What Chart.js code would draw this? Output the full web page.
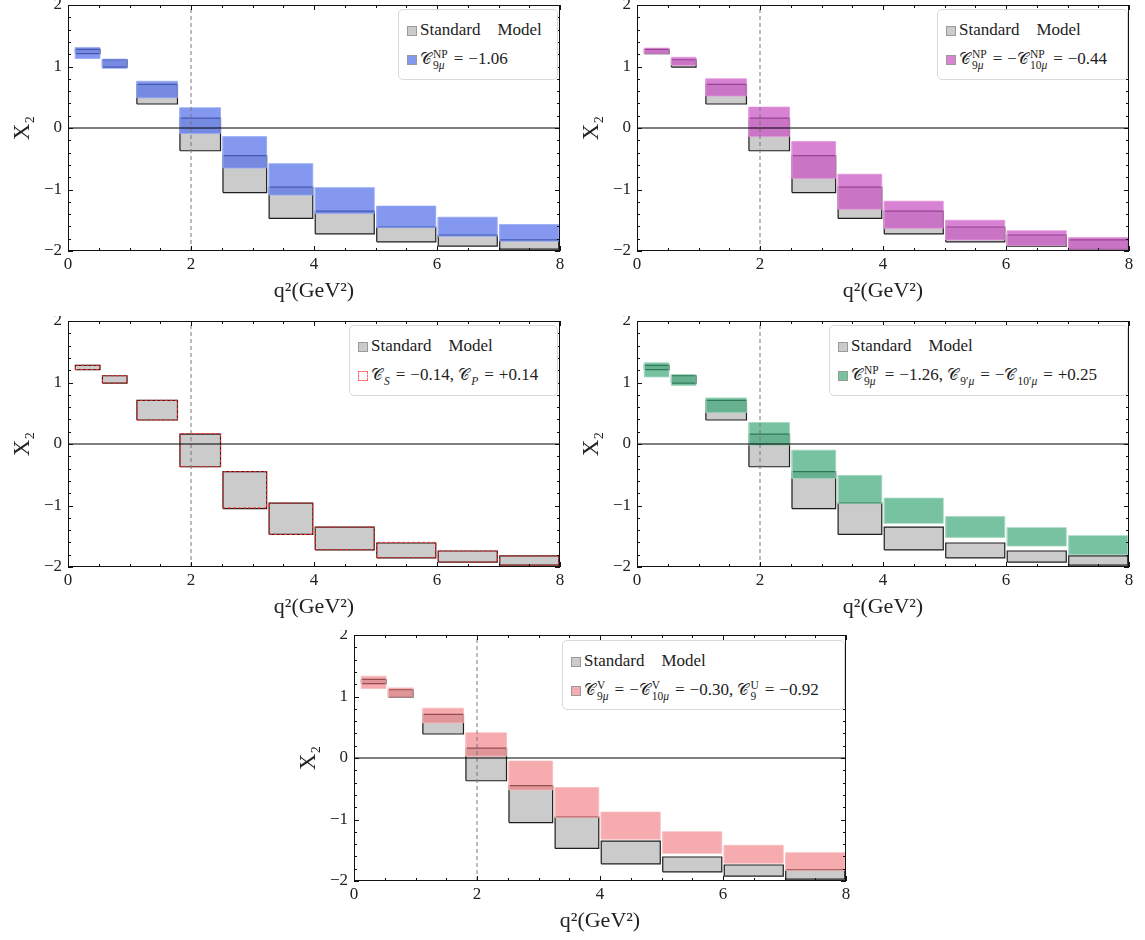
<!DOCTYPE html>
<html>
<head>
<meta charset="utf-8">
<script src="https://cdn.jsdelivr.net/npm/chart.js@4.4.1/dist/chart.umd.min.js"></script>
<style>
  body { margin: 0; background: #fff; }
  #page { position: relative; width: 1145px; height: 940px; overflow: hidden; font-family: "Liberation Serif", "DejaVu Serif", serif; color: #222; }
  canvas { position: absolute; }
  .leg { position: absolute; background: #fff; border: 1px solid #d9d9d9; border-radius: 5px; box-sizing: border-box;
         font-size: 17px; padding: 8px 0 0 8px; white-space: nowrap; }
  .r1 { height: 24px; line-height: 24px; }
  .r2 { height: 34px; line-height: 34px; }
  .sw { display: inline-block; width: 8px; height: 8px; margin-right: 3px; border: 1px solid #9a9a9a; vertical-align: -1px; }
  .C { font-family: "DejaVu Serif", serif; font-size: 16px; }
  .ss { display: inline-flex; flex-direction: column; font-size: 11.5px; line-height: 11px; vertical-align: middle; margin: 0 1px; }
  .op { margin: 0 5px; }
</style>
</head>
<body>
<div id="page">
  <canvas id="c1" width="570" height="306" style="left:0px;top:0px"></canvas>
  <canvas id="c2" width="570" height="306" style="left:569px;top:0px"></canvas>
  <canvas id="c3" width="570" height="306" style="left:0px;top:316px"></canvas>
  <canvas id="c4" width="570" height="306" style="left:569px;top:316px"></canvas>
  <canvas id="c5" width="570" height="306" style="left:286px;top:630px"></canvas>

  <div class="leg" style="left:398px;top:9px;width:160px;height:71px">
    <div class="r1"><span class="sw" style="background:#cbcbcb"></span>Standard&ensp;&ensp;Model</div>
    <div class="r2"><span class="sw" style="background:#8598f0"></span><span class="C">𝒞</span><span class="ss"><span>NP</span><span>9<i>μ</i></span></span><span class="op">=</span>−1.06</div>
  </div>
  <div class="leg" style="left:937px;top:9px;width:191px;height:71px">
    <div class="r1"><span class="sw" style="background:#cbcbcb"></span>Standard&ensp;&ensp;Model</div>
    <div class="r2"><span class="sw" style="background:#d884d2"></span><span class="C">𝒞</span><span class="ss"><span>NP</span><span>9<i>μ</i></span></span><span class="op">=</span>−<span class="C">𝒞</span><span class="ss"><span>NP</span><span>10<i>μ</i></span></span><span class="op">=</span>−0.44</div>
  </div>
  <div class="leg" style="left:349px;top:325px;width:209px;height:71px">
    <div class="r1"><span class="sw" style="background:#cbcbcb"></span>Standard&ensp;&ensp;Model</div>
    <div class="r2"><span class="sw" style="background:#fff;border:1px dashed #f66"></span><span class="C">𝒞</span><span class="ss"><span>&nbsp;</span><span><i>S</i></span></span><span class="op">=</span>−0.14, <span class="C">𝒞</span><span class="ss"><span>&nbsp;</span><span><i>P</i></span></span><span class="op">=</span>+0.14</div>
  </div>
  <div class="leg" style="left:829px;top:325px;width:299px;height:71px">
    <div class="r1"><span class="sw" style="background:#cbcbcb"></span>Standard&ensp;&ensp;Model</div>
    <div class="r2"><span class="sw" style="background:#78c2a0"></span><span class="C">𝒞</span><span class="ss"><span>NP</span><span>9<i>μ</i></span></span><span class="op">=</span>−1.26, <span class="C">𝒞</span><span class="ss"><span>&nbsp;</span><span>9′<i>μ</i></span></span><span class="op">=</span>−<span class="C">𝒞</span><span class="ss"><span>&nbsp;</span><span>10′<i>μ</i></span></span><span class="op">=</span>+0.25</div>
  </div>
  <div class="leg" style="left:562px;top:640px;width:283px;height:70px">
    <div class="r1"><span class="sw" style="background:#cbcbcb"></span>Standard&ensp;&ensp;Model</div>
    <div class="r2"><span class="sw" style="background:#f5acb0"></span><span class="C">𝒞</span><span class="ss"><span>V</span><span>9<i>μ</i></span></span><span class="op">=</span>−<span class="C">𝒞</span><span class="ss"><span>V</span><span>10<i>μ</i></span></span><span class="op">=</span>−0.30, <span class="C">𝒞</span><span class="ss"><span>U</span><span>9</span></span><span class="op">=</span>−0.92</div>
  </div>
</div>

<script>
// q^2 bins (GeV^2)
const binLo = [0.1, 0.54, 1.1, 1.8, 2.5, 3.25, 4, 5, 6, 7];
const binHi = [0.54, 0.98, 1.8, 2.5, 3.25, 4, 5, 6, 7, 8];

// Standard Model band
const smLo = [1.21, 0.99, 0.39, -0.37, -1.05, -1.47, -1.72, -1.85, -1.92, -1.97];
const smHi = [1.28, 1.11, 0.71, 0.16, -0.45, -0.96, -1.35, -1.61, -1.74, -1.82];

// new physics scenarios
const np1Lo = [1.13, 0.97, 0.49, -0.09, -0.65, -1.09, -1.39, -1.62, -1.76, -1.84];
const np1Hi = [1.31, 1.12, 0.76, 0.33, -0.14, -0.58, -0.97, -1.27, -1.45, -1.57];

const np2Lo = [1.21, 1.02, 0.52, -0.14, -0.82, -1.32, -1.63, -1.82, -1.91, -1.97];
const np2Hi = [1.30, 1.15, 0.80, 0.34, -0.22, -0.75, -1.19, -1.50, -1.67, -1.78];

const np3Lo = [1.21, 0.99, 0.39, -0.37, -1.04, -1.47, -1.72, -1.85, -1.92, -1.97];
const np3Hi = [1.28, 1.11, 0.71, 0.17, -0.45, -0.96, -1.35, -1.60, -1.74, -1.82];

const np4Lo = [1.09, 0.95, 0.51, -0.02, -0.56, -0.97, -1.29, -1.52, -1.66, -1.80];
const np4Hi = [1.32, 1.13, 0.75, 0.35, -0.10, -0.51, -0.88, -1.18, -1.36, -1.49];

const np5Lo = [1.13, 0.99, 0.57, 0.03, -0.52, -0.97, -1.32, -1.55, -1.71, -1.83];
const np5Hi = [1.33, 1.14, 0.81, 0.41, -0.05, -0.48, -0.88, -1.20, -1.42, -1.54];

const xTicks = [0, 2, 4, 6, 8];
const yTicks = [-2, -1, 0, 1, 2];
const cutQ2 = 2;

const serif = "'Liberation Serif', 'DejaVu Serif', serif";
const gap = 0.02; // little white gap between neighbouring boxes

function minus(v) {
  return v < 0 ? "\u2212" + Math.abs(v) : String(v);
}

function boxes(lo, hi, style) {
  return binLo.map((b, i) => {
    const x0 = b + gap, x1 = binHi[i] - gap;
    return Object.assign({
      data: [
        { x: x0, y: lo[i] }, { x: x1, y: lo[i] },
        { x: x1, y: hi[i] }, { x: x0, y: hi[i] }, { x: x0, y: lo[i] }
      ],
      fill: "shape",
      pointRadius: 0,
      tension: 0,
      borderWidth: 1
    }, style);
  });
}

// inward frame ticks like the original plot
const frameTicks = {
  id: "frameTicks",
  afterDraw(chart) {
    const { ctx, chartArea: a, scales: { x, y } } = chart;
    ctx.save();
    ctx.strokeStyle = "#111";
    ctx.lineWidth = 1;
    ctx.beginPath();
    for (let k = 0; k <= 16; k++) {
      const v = x.min + k * 0.5;
      const px = Math.round(x.getPixelForValue(v)) + 0.5;
      const len = k % 4 === 0 ? 5 : 3;
      ctx.moveTo(px, a.bottom); ctx.lineTo(px, a.bottom - len);
      ctx.moveTo(px, a.top); ctx.lineTo(px, a.top + len);
    }
    for (let k = 0; k <= 20; k++) {
      const v = y.min + k * 0.2;
      const py = Math.round(y.getPixelForValue(v)) + 0.5;
      const len = k % 5 === 0 ? 5 : 3;
      ctx.moveTo(a.left, py); ctx.lineTo(a.left + len, py);
      ctx.moveTo(a.right, py); ctx.lineTo(a.right - len, py);
    }
    ctx.stroke();
    ctx.strokeRect(Math.round(a.left) + 0.5, Math.round(a.top) + 0.5, Math.round(a.width) - 1, Math.round(a.height) - 1);
    ctx.restore();
  }
};

function makePanel(id, npLo, npHi, npStyle) {
  const xMin = xTicks[0], xMax = xTicks[xTicks.length - 1];
  const yMin = yTicks[0], yMax = yTicks[yTicks.length - 1];
  const datasets = [
    { data: [{ x: xMin, y: 0 }, { x: xMax, y: 0 }], borderColor: "#000", borderWidth: 1, pointRadius: 0, order: 0 },
    { data: [{ x: cutQ2, y: yMin }, { x: cutQ2, y: yMax }], borderColor: "#777", borderWidth: 1, borderDash: [4, 3], pointRadius: 0, order: 0 }
  ]
    .concat(boxes(npLo, npHi, Object.assign({ order: 1 }, npStyle)))
    .concat(boxes(smLo, smHi, { order: 2, backgroundColor: "#cbcbcb", borderColor: "#1e1e1e", borderWidth: 1.2 }));

  new Chart(document.getElementById(id), {
    type: "line",
    data: { datasets },
    options: {
      responsive: false,
      animation: false,
      layout: { padding: { top: 5, right: 10, left: 0, bottom: 0 } },
      plugins: { legend: { display: false }, tooltip: { enabled: false } },
      scales: {
        x: {
          type: "linear", min: xMin, max: xMax,
          afterBuildTicks: s => { s.ticks = xTicks.map(v => ({ value: v })); },
          afterFit: s => { s.height = 55; s.paddingLeft = 0; s.paddingRight = 0; },
          grid: { display: false, drawTicks: false },
          border: { display: false },
          ticks: { color: "#222", padding: 3, maxRotation: 0, font: { family: serif, size: 17 }, callback: minus },
          title: { display: true, text: "q²(GeV²)", color: "#222", font: { family: serif, size: 22 }, padding: { top: 0, bottom: 2 } }
        },
        y: {
          type: "linear", min: yMin, max: yMax,
          afterBuildTicks: s => { s.ticks = yTicks.map(v => ({ value: v })); },
          afterFit: s => { s.width = 68; s.paddingTop = 0; s.paddingBottom = 0; },
          grid: { display: false, drawTicks: false },
          border: { display: false },
          ticks: { color: "#222", padding: 6, font: { family: serif, size: 17 }, callback: minus },
          title: { display: true, text: "X₂", color: "#222", font: { family: serif, size: 23 }, padding: { top: 9, bottom: 0 } }
        }
      }
    },
    plugins: [frameTicks]
  });
}

makePanel("c1", np1Lo, np1Hi, { backgroundColor: "rgba(85,112,234,0.72)", borderColor: "rgba(150,168,245,0.75)" });
makePanel("c2", np2Lo, np2Hi, { backgroundColor: "rgba(200,82,192,0.72)", borderColor: "rgba(228,150,222,0.75)" });
makePanel("c3", np3Lo, np3Hi, { fill: false, backgroundColor: "rgba(0,0,0,0)", borderColor: "#ff2a2a", borderDash: [3, 2] });
makePanel("c4", np4Lo, np4Hi, { backgroundColor: "rgba(55,165,115,0.68)", borderColor: "rgba(165,215,192,0.75)" });
makePanel("c5", np5Lo, np5Hi, { backgroundColor: "rgba(240,110,118,0.58)", borderColor: "rgba(250,185,188,0.75)" });
</script>
</body>
</html>
